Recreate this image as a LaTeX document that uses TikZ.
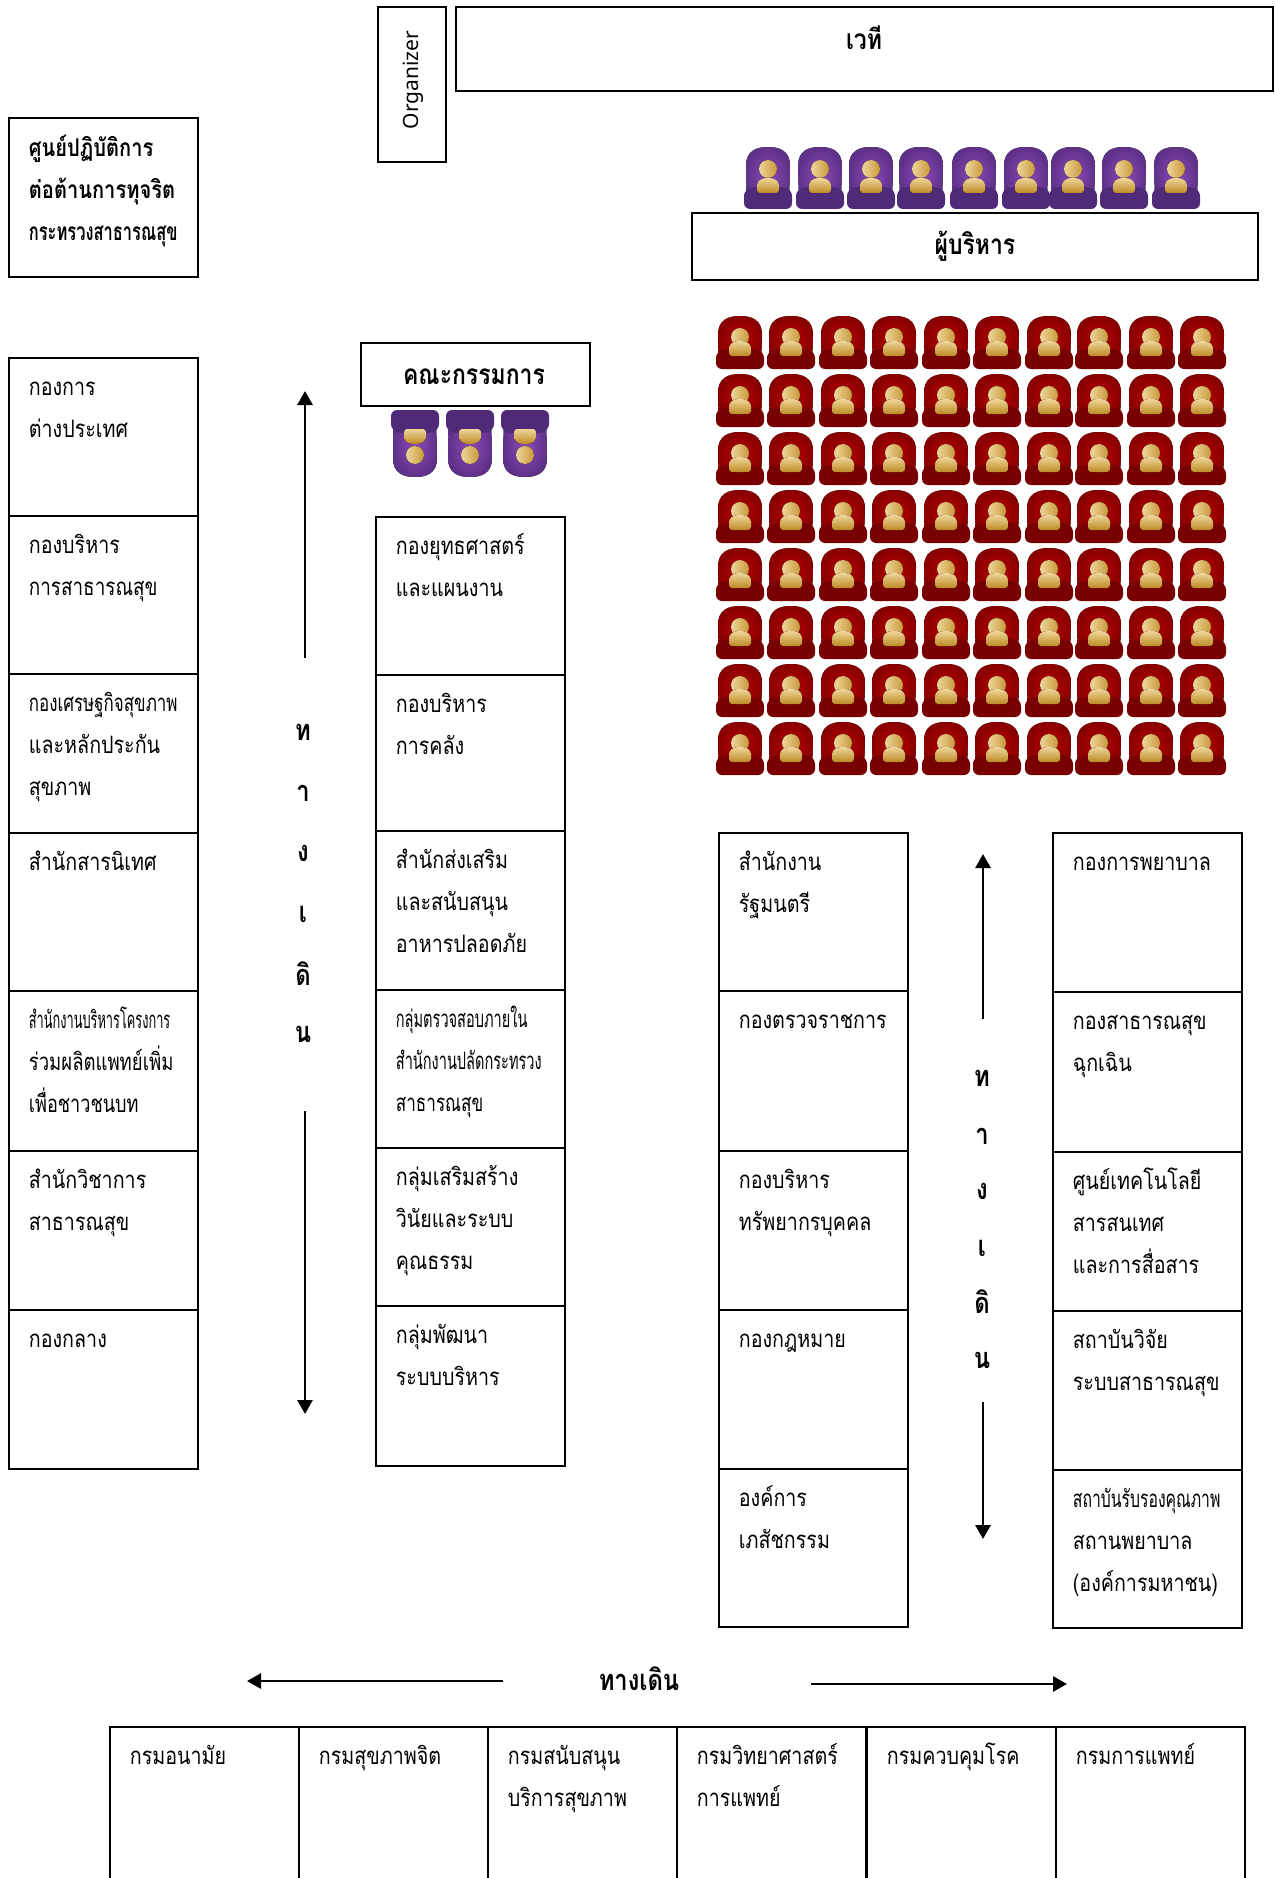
\documentclass[tikz,border=0pt]{standalone}
\usepackage{fontspec}
\usepackage{tikz}
\usetikzlibrary{arrows.meta}

\newfontfamily\thaifont[Script=Thai,FakeStretch=0.82]{Loma}
\setmainfont[Script=Thai,FakeStretch=0.82]{Loma}
\newfontfamily\orgfont{Noto Sans}

\definecolor{seatpurple}{HTML}{8E48BA}
\definecolor{seatpurpledark}{HTML}{4E2A78}
\definecolor{seatred}{HTML}{B80000}
\definecolor{seatreddark}{HTML}{780000}
\definecolor{goldlight}{HTML}{EFD59A}
\definecolor{golddark}{HTML}{BE8A24}

\newcommand{\officetext}[2][142pt]{\parbox[c][#1][t]{149pt}{\fontsize{24}{42}\selectfont\strut #2}}
\newcommand{\squeezed}[2][0.84]{\scalebox{#1}[1]{#2}}

\tikzset{
	office/.style = {draw, line width = 1.8pt, anchor = north west, inner xsep = 20pt, inner ysep = 8pt},
	title/.style = {draw, line width = 1.8pt, anchor = north west, font = \fontsize{28}{32}\selectfont\bfseries},
	walk/.style = {font = \fontsize{29}{32}\selectfont\bfseries},
	way/.style = {-{Triangle[length = 14pt, width = 15pt]}, line width = 2.8pt},
	seat/.pic = {
		\fill [inner color = seatlit, outer color = seatlit!25!seatshade] (-21, -5) -- (-22, \seattop+19) .. controls (-22, \seattop+4) and (-12, \seattop) .. (0, \seattop) .. controls (12, \seattop) and (22, \seattop+4) .. (22, \seattop+19) -- (21, -5) -- cycle;
		\fill [seatshade, rounded corners = 6pt] (-24, 0) -- (-24, -\seatbase+2) .. controls (-12, -\seatbase-2) and (12, -\seatbase-2) .. (24, -\seatbase+2) -- (24, 0) -- cycle;
		\fill [left color = goldlight, right color = golddark!80!goldlight] (0, \seathead) circle (9);
		\fill [top color = goldlight, bottom color = golddark, rounded corners = 3pt] (-11, \seatbody) -- (-11, \seatbody-11) -- (-5, \seatbody-15) -- (5, \seatbody-15) -- (11, \seatbody-11) -- (11, \seatbody) -- cycle;
	}
}

\begin{document}
\begin{tikzpicture}[x = 1pt, y = -1pt]
	\useasboundingbox (0, 0) rectangle (1274, 1878);

	% stage and headers
	\node (stage) at (455, 6) [title, minimum width = 817pt, minimum height = 84pt] {};
	\node (stagetext) at (864, 38) [font = \fontsize{28}{32}\selectfont\bfseries] {เวที};
	\node (org) at (377, 6) [draw, line width = 1.8pt, anchor = north west, minimum width = 68pt, minimum height = 155pt] {};
	\node (orgtext) at (413, 80) [rotate = 90, font = \fontsize{21}{26}\selectfont\orgfont] {Organizer};
	\node (boss) at (691, 212) [title, minimum width = 566pt, minimum height = 67pt] {ผู้บริหาร};
	\node (board) at (360, 342) [title, minimum width = 229pt, minimum height = 63pt] {};
	\node (boardtext) at (474, 377) [font = \fontsize{28}{32}\selectfont\bfseries] {คณะกรรมการ};
	\node (center) at (8, 117) [office, inner ysep = 9pt, font = \bfseries] {\parbox[c][141pt][t]{149pt}{\fontsize{24.5}{42}\selectfont\strut ศูนย์ปฏิบัติการ\\ต่อต้านการทุจริต\\\squeezed[0.82]{กระทรวงสาธารณสุข}}};

	% left column
	\node (foreign) at (8, 357) [office] {\officetext{กองการ\\ต่างประเทศ}};
	\node (health) at (8, 515) [office] {\officetext{กองบริหาร\\\squeezed[0.96]{การสาธารณสุข}}};
	\node (economy) at (8, 673) [office] {\officetext[143pt]{\squeezed[0.86]{กองเศรษฐกิจสุขภาพ}\\และหลักประกัน\\สุขภาพ}};
	\node (inform) at (8, 832) [office] {\officetext{สำนักสารนิเทศ}};
	\node (rural) at (8, 990) [office] {\officetext[144pt]{\squeezed[0.65]{สำนักงานบริหารโครงการ}\\\squeezed[0.94]{ร่วมผลิตแพทย์เพิ่ม}\\\squeezed[0.92]{เพื่อชาวชนบท}}};
	\node (academic) at (8, 1150) [office] {\officetext[143pt]{สำนักวิชาการ\\สาธารณสุข}};
	\node (central) at (8, 1309) [office] {\officetext[143pt]{กองกลาง}};

	% second column
	\node (plan) at (375, 516) [office] {\officetext{กองยุทธศาสตร์\\และแผนงาน}};
	\node (finance) at (375, 674) [office] {\officetext[140pt]{กองบริหาร\\การคลัง}};
	\node (food) at (375, 830) [office] {\officetext[143pt]{สำนักส่งเสริม\\และสนับสนุน\\อาหารปลอดภัย}};
	\node (audit) at (375, 989) [office] {\officetext{\squeezed[0.74]{กลุ่มตรวจสอบภายใน}\\\squeezed[0.74]{สำนักงานปลัดกระทรวง}\\\squeezed[0.87]{สาธารณสุข}}};
	\node (ethic) at (375, 1147) [office] {\officetext{กลุ่มเสริมสร้าง\\วินัยและระบบ\\คุณธรรม}};
	\node (admin) at (375, 1305) [office] {\officetext[144pt]{กลุ่มพัฒนา\\ระบบบริหาร}};

	% right columns
	\node (cabinet) at (718, 832) [office] {\officetext{สำนักงาน\\รัฐมนตรี}};
	\node (inspect) at (718, 990) [office] {\officetext[144pt]{กองตรวจราชการ}};
	\node (people) at (718, 1150) [office] {\officetext[143pt]{กองบริหาร\\ทรัพยากรบุคคล}};
	\node (law) at (718, 1309) [office] {\officetext[143pt]{กองกฎหมาย}};
	\node (drug) at (718, 1468) [office] {\officetext{องค์การ\\เภสัชกรรม}};
	\node (nurse) at (1052, 832) [office] {\officetext[143pt]{กองการพยาบาล}};
	\node (urgent) at (1052, 991) [office] {\officetext[144pt]{กองสาธารณสุข\\ฉุกเฉิน}};
	\node (tech) at (1052, 1151) [office] {\officetext[143pt]{ศูนย์เทคโนโลยี\\สารสนเทศ\\และการสื่อสาร}};
	\node (research) at (1052, 1310) [office] {\officetext[143pt]{สถาบันวิจัย\\ระบบสาธารณสุข}};
	\node (accredit) at (1052, 1469) [office] {\officetext{\squeezed[0.8]{สถาบันรับรองคุณภาพ}\\สถานพยาบาล\\(องค์การมหาชน)}};

	% bottom row
	\node (hygiene) at (109, 1726) [office] {\officetext{กรมอนามัย}};
	\node (mental) at (298, 1726) [office] {\officetext{กรมสุขภาพจิต}};
	\node (service) at (487, 1726) [office] {\officetext{กรมสนับสนุน\\บริการสุขภาพ}};
	\node (science) at (676, 1726) [office] {\officetext{กรมวิทยาศาสตร์\\การแพทย์}};
	\node (disease) at (866, 1726) [office] {\officetext{กรมควบคุมโรค}};
	\node (medical) at (1055, 1726) [office] {\officetext{กรมการแพทย์}};

	% walkways
	\foreach \nm/\yy/\ch in {wa/732/ท, wb/793/า, wc/853/ง, wd/914/เ, we/974/ดิ, wf/1034/น}
		\node (\nm) at (303, \yy) [walk] {\ch};
	\foreach \nm/\yy/\ch in {va/1078/ท, vb/1136/า, vc/1191/ง, vd/1248/เ, ve/1302/ดิ, vf/1360/น}
		\node (\nm) at (982, \yy) [walk] {\ch};
	\node (walkh) at (639, 1679) [walk] {ทางเดิน};
	\coordinate (a1) at (305, 658);
	\coordinate (a2) at (305, 391);
	\coordinate (b1) at (305, 1111);
	\coordinate (b2) at (305, 1414);
	\coordinate (c1) at (983, 1019);
	\coordinate (c2) at (983, 854);
	\coordinate (d1) at (983, 1402);
	\coordinate (d2) at (983, 1539);
	\coordinate (e1) at (503, 1681);
	\coordinate (e2) at (247, 1681);
	\coordinate (f1) at (811, 1684);
	\coordinate (f2) at (1067, 1684);
	\draw [way] (a1) -- (a2);
	\draw [way] (b1) -- (b2);
	\draw [way] (c1) -- (c2);
	\draw [way] (d1) -- (d2);
	\draw [way] (e1) -- (e2);
	\draw [way] (f1) -- (f2);

	% seats
	\colorlet{seatlit}{seatpurple}
	\colorlet{seatshade}{seatpurpledark}
	\def\seattop{-62}\def\seathead{-40}\def\seatbody{-16}\def\seatbase{21}
	\foreach \xx in {768, 820, 871, 921, 974, 1026, 1073, 1124, 1176}
		\pic at (\xx, 209) {seat};
	\def\seattop{-67}\def\seathead{-45}\def\seatbody{-19}\def\seatbase{22}
	\foreach \xx in {415, 470, 525}
		\pic at (\xx, 410) [yscale = -1] {seat};
	\colorlet{seatlit}{seatred}
	\colorlet{seatshade}{seatreddark}
	\def\seattop{-53}\def\seathead{-32}\def\seatbody{-13}\def\seatbase{19}
	\foreach \yy in {369, 427, 485, 543, 601, 659, 717, 775}
		\foreach \xx in {740, 791, 843, 894, 946, 997, 1049, 1099, 1151, 1202}
			\pic at (\xx, \yy) {seat};
\end{tikzpicture}
\end{document}
